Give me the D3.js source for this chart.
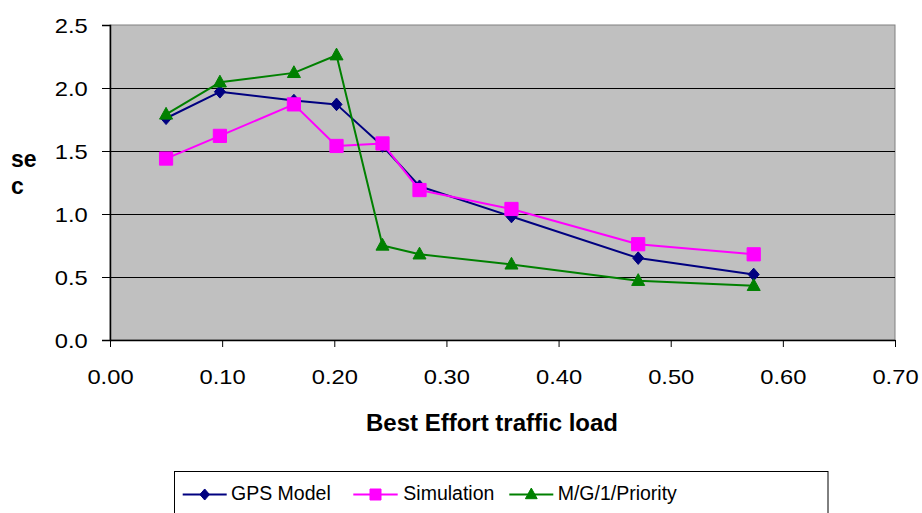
<!DOCTYPE html>
<html>
<head>
<meta charset="utf-8">
<script src="https://cdn.jsdelivr.net/npm/d3@7"></script>
<style>
  html, body { margin: 0; padding: 0; background: #fff; }
  svg { display: block; font-family: "Liberation Sans", Arial, sans-serif; }
</style>
</head>
<body>
<svg id="chart" width="922" height="513"></svg>
<script>
// Best-effort traffic load (x) shared by all three series
const load = [0.05, 0.098, 0.164, 0.202, 0.243, 0.276, 0.358, 0.471, 0.574];
// Delay in seconds
const gpsModel   = [1.76, 1.97, 1.90, 1.87, 1.54, 1.22, 0.98, 0.65, 0.52];
const simulation = [1.44, 1.62, 1.87, 1.54, 1.56, 1.19, 1.04, 0.76, 0.68];
const mg1Priority = [1.79, 2.045, 2.12, 2.26, 0.75, 0.68, 0.60, 0.47, 0.43];

const seriesNames = ["GPS Model", "Simulation", "M/G/1/Priority"];
const xTicks = [0, 0.1, 0.2, 0.3, 0.4, 0.5, 0.6, 0.7];
const yTicks = [0, 0.5, 1.0, 1.5, 2.0, 2.5];

const series = [
  { name: seriesNames[0], values: gpsModel,    color: "#000080", marker: "diamond" },
  { name: seriesNames[1], values: simulation,  color: "#FF00FF", marker: "square" },
  { name: seriesNames[2], values: mg1Priority, color: "#008000", marker: "triangle" }
];

const svg = d3.select("#chart");
const plot = { left: 110, top: 25, right: 895, bottom: 340 };

const x = d3.scaleLinear().domain([0, 0.7]).range([plot.left, plot.right]);
const y = d3.scaleLinear().domain([0, 2.5]).range([plot.bottom, plot.top]);

// plot background
svg.append("rect")
  .attr("x", plot.left).attr("y", plot.top)
  .attr("width", plot.right - plot.left).attr("height", plot.bottom - plot.top)
  .attr("fill", "#C0C0C0")
  .attr("stroke", "#808080").attr("stroke-width", 1);

// horizontal gridlines
svg.append("g").selectAll("line")
  .data(yTicks.filter(t => t > 0 && t < 2.5))
  .join("line")
  .attr("x1", plot.left).attr("x2", plot.right)
  .attr("y1", d => Math.round(y(d)) + 0.5).attr("y2", d => Math.round(y(d)) + 0.5)
  .attr("stroke", "#000").attr("stroke-width", 1);

const stretch = 1.13;

// y axis
const yAxis = svg.append("g")
  .attr("transform", `translate(${plot.left},0)`)
  .call(d3.axisLeft(y).tickValues(yTicks).tickFormat(d3.format(".1f")).tickSize(8).tickPadding(0));
yAxis.select(".domain").attr("stroke", "#000").attr("stroke-width", 1.5);
yAxis.selectAll(".tick line").attr("stroke", "#000");
yAxis.selectAll(".tick text")
  .attr("font-size", 21).attr("fill", "#000")
  .attr("font-family", "'Liberation Sans', Arial, sans-serif")
  .attr("dy", null).attr("x", -22.3 / stretch).attr("y", 7)
  .attr("transform", `scale(${stretch},1)`);

// x axis
const xAxis = svg.append("g")
  .attr("transform", `translate(0,${plot.bottom})`)
  .call(d3.axisBottom(x).tickValues(xTicks).tickFormat(d3.format(".2f")).tickSize(7).tickSizeOuter(0).tickPadding(0));
xAxis.select(".domain").attr("stroke", "#000").attr("stroke-width", 1.5);
xAxis.selectAll(".tick line").attr("stroke", "#000");
xAxis.selectAll(".tick text")
  .attr("font-size", 21).attr("fill", "#000")
  .attr("font-family", "'Liberation Sans', Arial, sans-serif")
  .attr("dy", null).attr("y", 44)
  .attr("transform", `scale(${stretch},1)`)
  .each(function() {
    // keep labels centred on their ticks after stretching
    const t = d3.select(this);
    t.attr("x", 0);
  });

// axis titles
svg.append("text")
  .attr("x", 492).attr("y", 430.5)
  .attr("text-anchor", "middle")
  .attr("font-size", 24).attr("font-weight", "bold")
  .text("Best Effort traffic load");

const yTitle = svg.append("text")
  .attr("font-size", 23).attr("font-weight", "bold");
yTitle.append("tspan").attr("x", 11).attr("y", 166.5).text("se");
yTitle.append("tspan").attr("x", 11).attr("y", 194).text("c");

// marker shapes
function markerPath(kind, s) {
  if (kind === "diamond") return `M0,${-s * 1.15}L${s},0L0,${s * 1.15}L${-s},0Z`;
  if (kind === "square") return `M${-s},${-s}H${s}V${s}H${-s}Z`;
  return `M0,${-s * 1.15}L${s * 1.05},${s * 0.75}L${-s * 1.05},${s * 0.75}Z`;
}
const markerSize = { diamond: 5.5, square: 6.6, triangle: 6.2 };

const line = d3.line().x(d => x(d[0])).y(d => y(d[1]));

series.forEach(s => {
  const pts = load.map((v, i) => [v, s.values[i]]);
  const g = svg.append("g");
  g.append("path")
    .attr("d", line(pts))
    .attr("fill", "none").attr("stroke", s.color).attr("stroke-width", 2)
    .attr("stroke-linejoin", "round");
  g.selectAll("path.m").data(pts).join("path")
    .attr("class", "m")
    .attr("transform", d => `translate(${x(d[0])},${y(d[1])})`)
    .attr("d", markerPath(s.marker, markerSize[s.marker]))
    .attr("fill", s.color).attr("stroke", s.color).attr("stroke-width", 1);
});

// legend
const legend = svg.append("g");
legend.append("rect")
  .attr("x", 174.5).attr("y", 471.5).attr("width", 653.5).attr("height", 60)
  .attr("fill", "#fff").attr("stroke", "#000").attr("stroke-width", 1);

const legendPos = [
  { x1: 182.7, x2: 226.7, tx: 231 },
  { x1: 353.3, x2: 397.7, tx: 403.3 },
  { x1: 509.3, x2: 553.3, tx: 557.7 }
];
const legendMarker = { diamond: 4.8, square: 5.5, triangle: 5.6 };
series.forEach((s, i) => {
  const p = legendPos[i];
  const ly = 494.5;
  legend.append("line")
    .attr("x1", p.x1).attr("x2", p.x2).attr("y1", ly).attr("y2", ly)
    .attr("stroke", s.color).attr("stroke-width", 2);
  legend.append("path")
    .attr("transform", `translate(${(p.x1 + p.x2) / 2},${ly})`)
    .attr("d", markerPath(s.marker, legendMarker[s.marker]))
    .attr("fill", s.color).attr("stroke", s.color);
  legend.append("text")
    .attr("x", p.tx).attr("y", 499.5)
    .attr("font-size", 19.5).attr("fill", "#000")
    .text(s.name);
});
</script>
</body>
</html>
